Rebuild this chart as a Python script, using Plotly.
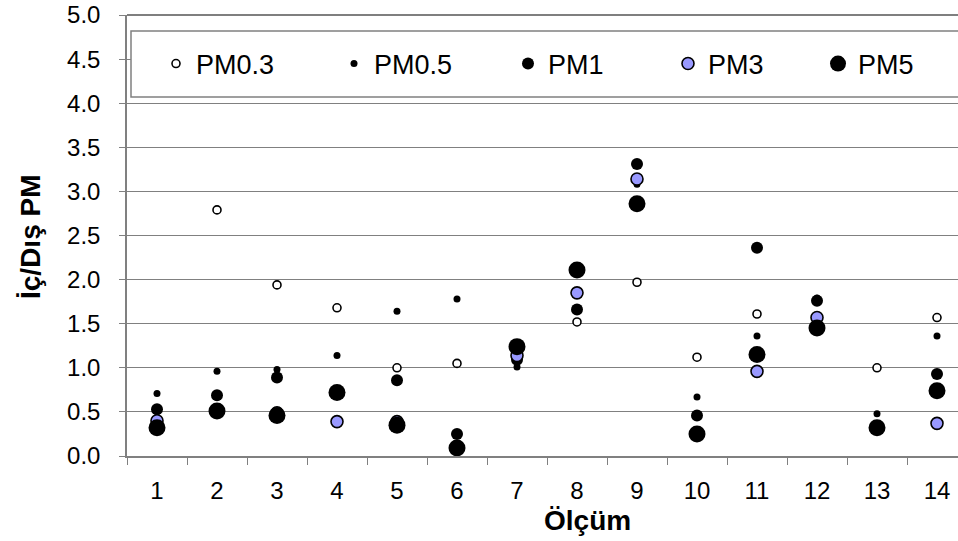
import plotly.graph_objects as go

categories = [str(i) for i in range(1, 15)]
pm03 = [0.35, 2.79, 1.94, 1.68, 1.00, 1.05, 1.15, 1.52, 1.97, 1.12, 1.61, 1.50, 1.00, 1.57]
pm05 = [0.71, 0.96, 0.98, 1.14, 1.64, 1.78, 1.01, 1.65, 3.08, 0.67, 1.36, 1.79, 0.48, 1.36]
pm1 = [0.53, 0.69, 0.89, 0.72, 0.86, 0.25, 1.09, 1.66, 3.31, 0.46, 2.36, 1.76, 0.32, 0.93]
pm3 = [0.40, 0.51, 0.49, 0.39, 0.39, 0.10, 1.14, 1.85, 3.14, 0.25, 0.96, 1.57, 0.32, 0.37]
pm5 = [0.32, 0.51, 0.46, 0.72, 0.35, 0.09, 1.24, 2.11, 2.86, 0.25, 1.15, 1.45, 0.32, 0.74]

series = [
    ("PM0.3", pm03, dict(size=8, color="white", line=dict(color="black", width=1.6))),
    ("PM0.5", pm05, dict(size=7, color="black", line=dict(color="black", width=0))),
    ("PM1", pm1, dict(size=12, color="black", line=dict(color="black", width=0))),
    ("PM3", pm3, dict(size=12, color="#9999FF", line=dict(color="black", width=1.6))),
    ("PM5", pm5, dict(size=17, color="black", line=dict(color="black", width=0))),
]

FONT = "Liberation Sans, Arial, sans-serif"
W, H = 958, 541
L, R, T, B = 127, 0, 15, 85
PW, PH = W - L - R, H - T - B
legend_text_x = [196, 374, 548, 708, 858]


def px_x(px):
    return (px - L) / PW


def px_y(py):
    return (H - B - py) / PH


fig = go.Figure()
layout_legends = {}
for i, (name, vals, mk) in enumerate(series):
    key = "legend" if i == 0 else f"legend{i+1}"
    fig.add_trace(go.Scatter(x=categories, y=vals, mode="markers", name=name,
                             marker=mk, legend=key, cliponaxis=False))
    layout_legends[key] = dict(
        x=px_x(legend_text_x[i] - 40), y=px_y(64),
        xanchor="left", yanchor="middle",
        bgcolor="rgba(0,0,0,0)", borderwidth=0,
        font=dict(family=FONT, size=27, color="black"),
        orientation="h",
    )

fig.update_layout(
    width=W, height=H,
    margin=dict(l=L, r=R, t=T, b=B, autoexpand=False),
    paper_bgcolor="white", plot_bgcolor="white",
    showlegend=True,
    **layout_legends,
    xaxis=dict(
        type="category", range=[-0.5, 13.35],
        tickson="boundaries", ticks="outside", ticklen=7, tickcolor="#808080",
        showgrid=False, showline=True, linecolor="#808080", linewidth=1.5,
        tickfont=dict(family=FONT, size=24, color="black"),
        ticklabelstandoff=12,
    ),
    yaxis=dict(
        range=[0, 5], dtick=0.5, tick0=0, tickformat=".1f",
        ticks="outside", ticklen=6, tickcolor="#808080",
        showgrid=True, gridcolor="#808080", gridwidth=1,
        showline=True, linecolor="#808080", linewidth=1.5,
        zeroline=False,
        tickfont=dict(family=FONT, size=24, color="black"),
        ticklabelstandoff=14,
    ),
    shapes=[
        dict(type="rect", xref="paper", yref="paper",
             x0=px_x(131), x1=1.05, y0=px_y(97), y1=px_y(31),
             line=dict(color="#808080", width=1.5), fillcolor="white", layer="above"),
        dict(type="line", xref="paper", yref="paper", x0=0, x1=1, y0=1, y1=1,
             line=dict(color="black", width=1.2), layer="above"),
    ],
    annotations=[
        dict(text="<b>Ölçüm</b>", xref="paper", yref="paper",
             x=px_x(587), y=px_y(520), showarrow=False,
             xanchor="center", yanchor="middle",
             font=dict(family=FONT, size=28, color="black")),
        dict(text="<b>İç/Dış PM</b>", xref="paper", yref="paper",
             x=px_x(30), y=px_y(237), showarrow=False, textangle=-90,
             xanchor="center", yanchor="middle",
             font=dict(family=FONT, size=28, color="black")),
    ],
)

fig.write_html("out.html")
